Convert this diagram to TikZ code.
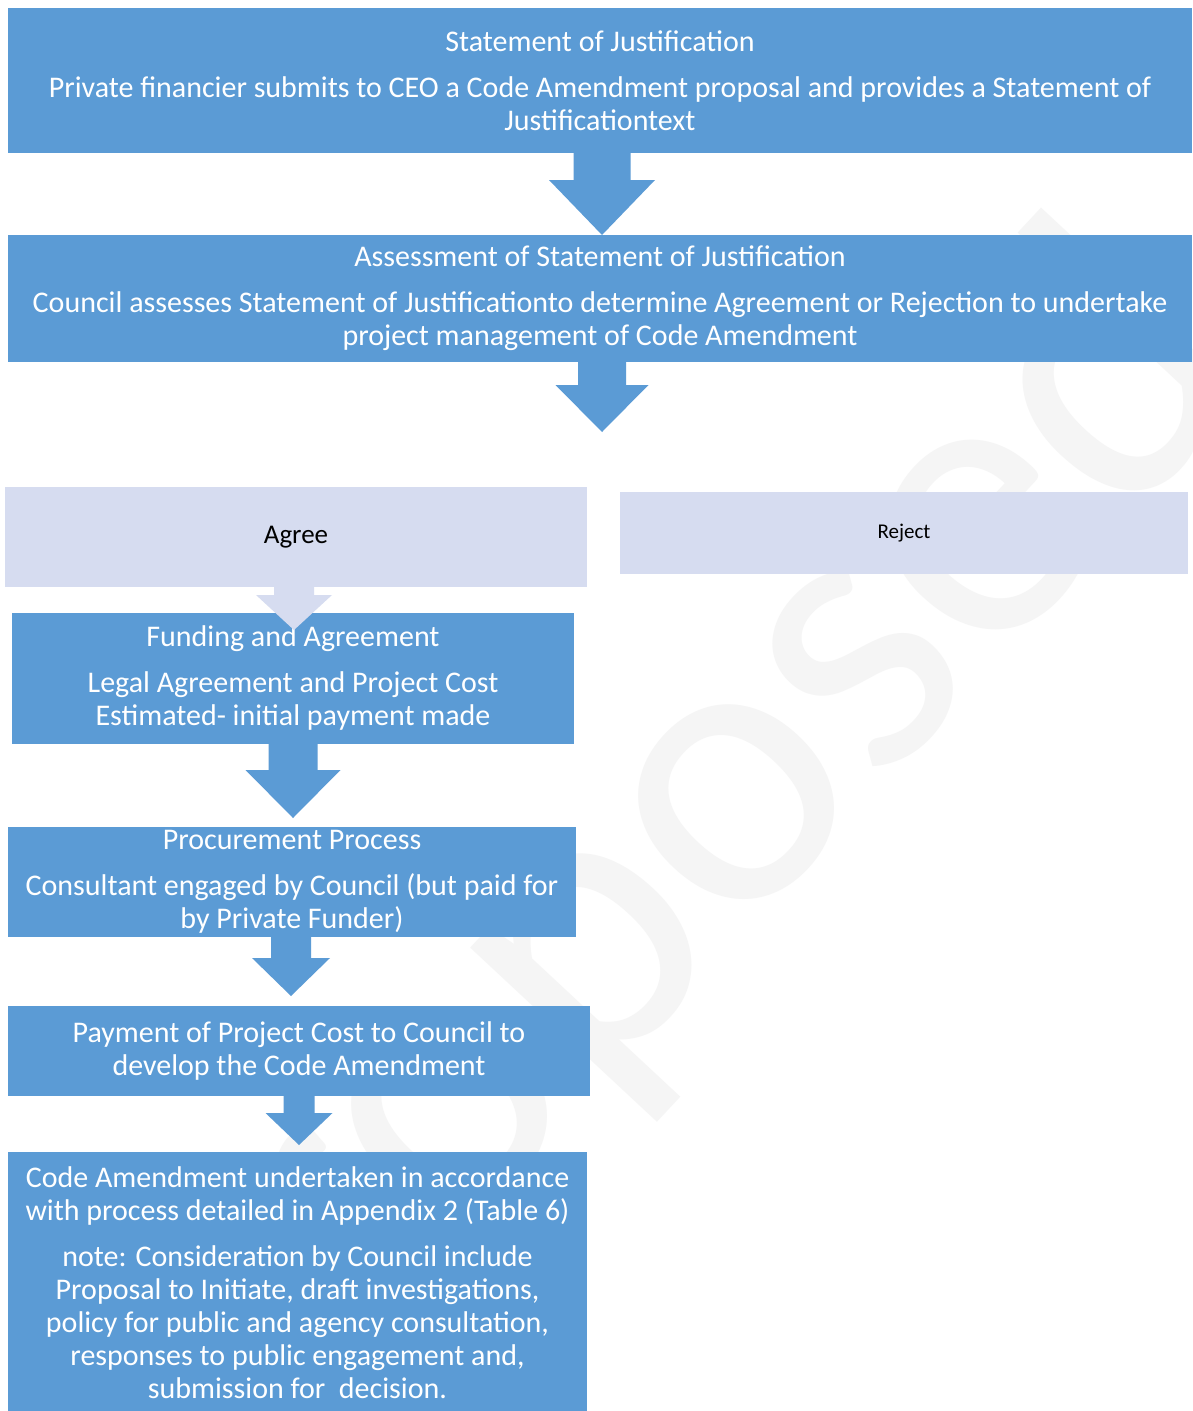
\documentclass[tikz,border=0pt]{standalone}
\usepackage{fontspec}
\setmainfont{Carlito}
\usetikzlibrary{calc}
\definecolor{boxblue}{RGB}{91,155,213}
\definecolor{lightbox}{RGB}{214,220,240}
\definecolor{wmark}{RGB}{245,245,245}
\tikzset{
  bluebox/.style={fill=boxblue, text=white, inner sep=0pt, align=center,
    font=\fontsize{30}{33}\selectfont},
  paleboxst/.style={fill=lightbox, text=black, inner sep=0pt, align=center},
}
% #1 colour, #2 start node anchor, #3 tip, #4 shaft half width, #5 head half width, #6 head length
\newcommand\blockarrow[6]{%
  \fill[#1] let \p1=(#2), \p2=(#3) in
    (\x2-#4,\y1) -- (\x2-#4,\y2+#6) -- (\x2-#5,\y2+#6) -- (\x2,\y2)
    -- (\x2+#5,\y2+#6) -- (\x2+#4,\y2+#6) -- (\x2+#4,\y1) -- cycle;}
\begin{document}
\begin{tikzpicture}[x=1pt,y=-1pt]
\useasboundingbox[fill=white] (0,0) rectangle (1192,1411);

% watermark
\node[rotate=47, text=wmark, inner sep=0pt, font=\fontsize{400}{400}\selectfont] (wm) at (662,866) {Proposed};

% boxes
\node[bluebox, minimum width=1184pt, minimum height=145pt] (b1) at (600,80.5)
  {Statement of Justification\\[13pt]
   Private financier submits to CEO a Code Amendment proposal and provides a Statement of\\
   Justificationtext};
\node[bluebox, minimum width=1184pt, minimum height=127pt] (b2) at (600,298.5)
  {Assessment of Statement of Justification\\[13pt]
   Council assesses Statement of Justificationto determine Agreement or Rejection to undertake\\
   project management of Code Amendment};
\node[paleboxst, minimum width=582pt, minimum height=100pt, font=\fontsize{27}{30}\selectfont] (agree) at (296,537) {Agree};
\node[paleboxst, minimum width=568pt, minimum height=82pt, font=\fontsize{21}{24}\selectfont] (reject) at (904,533) {Reject};
\node[bluebox, minimum width=562pt, minimum height=131pt] (fund) at (293,678)
  {Funding and Agreement\\[13pt]
   Legal Agreement and Project Cost\\
   Estimated- initial payment made};
\node[bluebox, minimum width=568pt, minimum height=110pt] (proc) at (292,882)
  {Procurement Process\\[13pt]
   Consultant engaged by Council (but paid for\\
   by Private Funder)};
\node[bluebox, minimum width=582pt, minimum height=90pt] (pay) at (299,1051)
  {Payment of Project Cost to Council to\\
   develop the Code Amendment};
\node[bluebox, minimum width=579pt, minimum height=262pt] (final) at (297.5,1283)
  {Code Amendment undertaken in accordance\\
   with process detailed in Appendix 2 (Table 6)\\[13pt]
   note: Consideration by Council include\\
   Proposal to Initiate, draft investigations,\\
   policy for public and agency consultation,\\
   responses to public engagement and,\\
   submission for \ decision.};

% tips
\coordinate (t1) at (602,235);
\coordinate (t2) at (602,432);
\coordinate (t3) at (294,630);
\coordinate (t4) at (293,818);
\coordinate (t5) at (291,996);
\coordinate (t6) at (299,1145);

% arrows
\blockarrow{boxblue}{b1.south}{t1}{28.5pt}{53pt}{55pt}
\blockarrow{boxblue}{b2.south}{t2}{24pt}{46.5pt}{47pt}
\blockarrow{lightbox}{agree.south}{t3}{20pt}{38pt}{35pt}
\blockarrow{boxblue}{fund.south}{t4}{24.5pt}{47.5pt}{48pt}
\blockarrow{boxblue}{proc.south}{t5}{20pt}{39pt}{38pt}
\blockarrow{boxblue}{pay.south}{t6}{15.5pt}{33.5pt}{32pt}
\end{tikzpicture}
\end{document}
